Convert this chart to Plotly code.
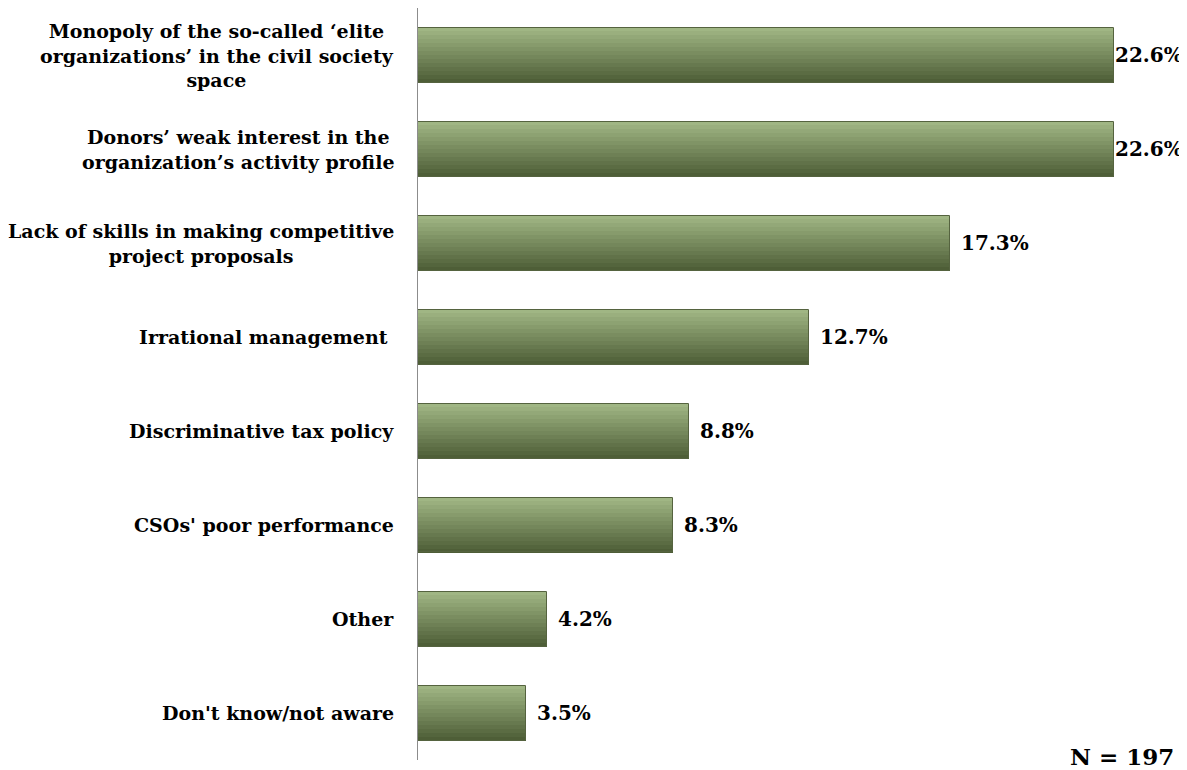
import plotly.graph_objects as go

# data, top to bottom
categories = [
    "Monopoly of the so-called \u2018elite<br>organizations\u2019 in the civil society<br>space",
    "Donors\u2019 weak interest in the<br>organization\u2019s activity profile",
    "Lack of skills in making competitive<br>project proposals",
    "Irrational management ",
    "Discriminative tax policy",
    "CSOs' poor performance",
    "Other",
    "Don't know/not aware",
]
values = [22.6, 22.6, 17.3, 12.7, 8.8, 8.3, 4.2, 3.5]
value_labels = ["22.6%", "22.6%", "17.3%", "12.7%", "8.8%", "8.3%", "4.2%", "3.5%"]

keys = [str(i) for i in range(len(categories))]
FONT = "DejaVu Serif"

fig = go.Figure()

# fake the vertical gradient of the bars with thin stacked stripes
light = (160, 182, 132)
dark = (78, 94, 55)
n_stripes = 14
bar_w = 0.585
for i in range(n_stripes):
    t = i / (n_stripes - 1)
    c = tuple(round(light[k] * (1 - t) + dark[k] * t) for k in range(3))
    fig.add_trace(go.Bar(
        y=keys, x=values, orientation="h",
        width=bar_w / n_stripes + 0.002,
        offset=-bar_w / 2 + i * bar_w / n_stripes,
        marker=dict(color="rgb(%d,%d,%d)" % c, line=dict(width=0)),
        hoverinfo="skip", showlegend=False,
    ))

# outline
fig.add_trace(go.Bar(
    y=keys, x=values, orientation="h", width=bar_w,
    marker=dict(color="rgba(0,0,0,0)", line=dict(color="#55633f", width=1)),
    showlegend=False,
))

# value labels (the two longest bars have theirs pushed against the bar end)
for k, v, lab in zip(keys, values, value_labels):
    fig.add_annotation(
        x=v, xref="x", y=k, yref="y", xanchor="left",
        xshift=9 if v < 20 else -1,
        text="<b>" + lab + "</b>", showarrow=False,
        font=dict(family=FONT, size=20, color="black"),
    )

for k, lab in zip(keys, categories):
    fig.add_annotation(
        x=0, xref="paper", y=k, yref="y", xanchor="right", xshift=-22,
        text="<b>" + lab + "</b>", showarrow=False, align="center",
        font=dict(family=FONT, size=19, color="black"),
    )

fig.add_annotation(
    x=1, xref="paper", y=0, yref="paper", xanchor="right", yanchor="middle",
    xshift=4, yshift=4,
    text="<b>N = 197</b>", showarrow=False,
    font=dict(family=FONT, size=23, color="black"),
)

fig.update_layout(
    width=1187, height=770,
    margin=dict(l=410, r=23, t=0, b=18),
    barmode="overlay", bargap=0,
    plot_bgcolor="white", paper_bgcolor="white",
)
fig.update_xaxes(range=[0, 24.5], showgrid=False, showticklabels=False,
                 zeroline=False, showline=False, ticks="")
fig.update_yaxes(categoryorder="array", categoryarray=keys, autorange="reversed",
                 showticklabels=False, showgrid=False, ticks="",
                 showline=True, linecolor="#8c8c8c", linewidth=1)

fig.write_html("out.html")
